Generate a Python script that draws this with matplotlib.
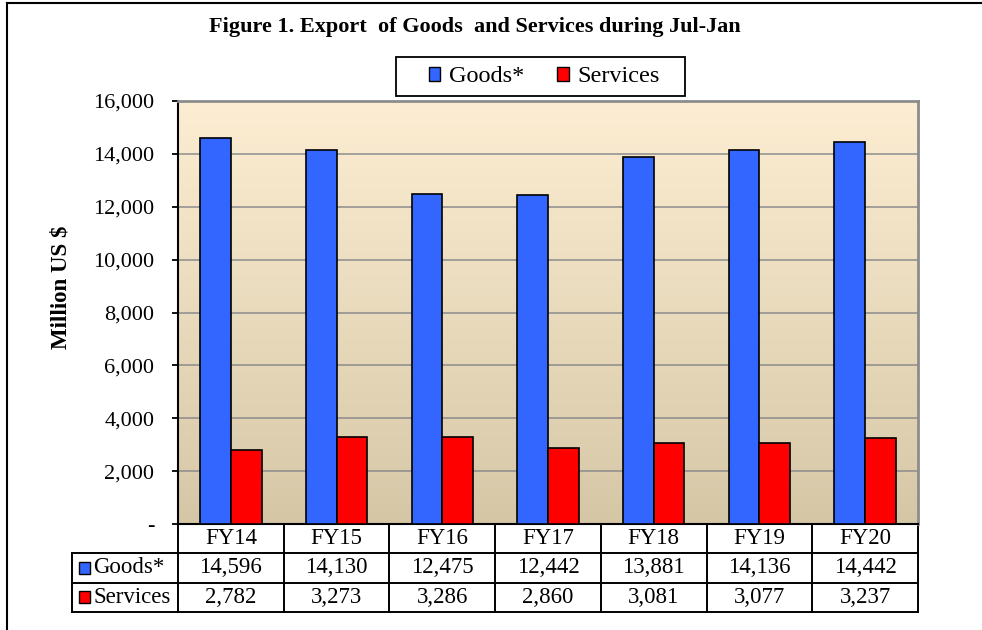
import numpy as np
import matplotlib.pyplot as plt
from matplotlib.lines import Line2D
from matplotlib.patches import Rectangle
from matplotlib.ticker import FuncFormatter, MultipleLocator

years = ['FY14', 'FY15', 'FY16', 'FY17', 'FY18', 'FY19', 'FY20']
goods = [14596, 14130, 12475, 12442, 13881, 14136, 14442]
services = [2782, 3273, 3286, 2860, 3081, 3077, 3237]
series_names = ['Goods*', 'Services']
series_colors = ['#3366FF', '#FF0000']

W, H = 982, 630
plt.rcParams['font.family'] = ['Liberation Serif', 'DejaVu Serif']

fig = plt.figure(figsize=(W / 100, H / 100), dpi=100)

# plot area in pixel terms
left, right, top, bottom = 178, 918, 101, 524
ax = fig.add_axes([left / W, 1 - bottom / H, (right - left) / W, (bottom - top) / H])

x = np.arange(len(years))
bw = 0.29
ax.bar(x - bw / 2, goods, bw, color=series_colors[0], edgecolor='black', linewidth=1.2,
       zorder=3, label=series_names[0])
ax.bar(x + bw / 2, services, bw, color=series_colors[1], edgecolor='black', linewidth=1.2,
       zorder=3, label=series_names[1])

ax.set_xlim(-0.5, len(years) - 0.5)
ax.set_ylim(0, 16000)

# gradient background
grad = np.linspace(0, 1, 256).reshape(-1, 1)
c_top = np.array([253, 238, 211]) / 255
c_bot = np.array([213, 199, 166]) / 255
img = c_top + (c_bot - c_top) * grad[:, :, None]
ax.imshow(img, extent=[0, 1, 0, 1], transform=ax.transAxes, aspect='auto', zorder=0)

ax.yaxis.set_major_locator(MultipleLocator(2000))
ax.yaxis.set_major_formatter(FuncFormatter(lambda v, p: '-' if v == 0 else f'{v:,.0f}'))
ax.grid(axis='y', color='#8c8c8c', linewidth=1.1, zorder=1)
ax.set_axisbelow(True)
ax.tick_params(axis='y', direction='out', length=4, width=1.3, labelsize=16, pad=13, colors='black')
ax.tick_params(axis='x', bottom=False, labelbottom=False)
ax.spines['left'].set_linewidth(1.5)
ax.spines['bottom'].set_linewidth(1.5)
for s in ['top', 'right']:
    ax.spines[s].set_color('#8c8c8c')
    ax.spines[s].set_linewidth(2)

ax.set_ylabel('Million US $', fontsize=16.5, fontweight='bold', labelpad=16)
ax.yaxis.label.set_y(0.56)

# data table underneath
tr = ax.get_xaxis_transform()
rh = 29.3 / (bottom - top)
rows = [goods, services]
lw = 1.4
# horizontal lines
ax.add_line(Line2D([-0.5, len(years) - 0.5], [-rh, -rh], color='black', lw=lw, transform=tr, clip_on=False))
ax.add_line(Line2D([-1.5, -0.5], [-rh, -rh], color='black', lw=lw, transform=tr, clip_on=False))
for k in range(2, 4):
    ax.add_line(Line2D([-1.5, len(years) - 0.5], [-k * rh, -k * rh], color='black', lw=lw,
                       transform=tr, clip_on=False))
# vertical lines
ax.add_line(Line2D([-1.5, -1.5], [-rh, -3 * rh], color='black', lw=lw, transform=tr, clip_on=False))
for b in np.arange(len(years) + 1) - 0.5:
    ax.add_line(Line2D([b, b], [0, -3 * rh], color='black', lw=lw, transform=tr, clip_on=False))

for i, yr in enumerate(years):
    ax.text(i, -0.5 * rh, yr, transform=tr, ha='center', va='center', fontsize=16.5)
    for r, vals in enumerate(rows):
        ax.text(i, -(r + 1.5) * rh, f'{vals[i]:,}', transform=tr, ha='center', va='center', fontsize=16.5)

sq_w, sq_h = 0.11, 0.028
for r, name in enumerate(series_names):
    yc = -(r + 1.5) * rh
    ax.add_patch(Rectangle((-1.44, yc - sq_h / 2), sq_w, sq_h, facecolor=series_colors[r],
                           edgecolor='black', lw=1, transform=tr, clip_on=False))
    ax.text(-1.3, yc, name, transform=tr, ha='left', va='center', fontsize=16.5)

# legend (frame drawn separately to match the wide box)
leg = fig.legend(loc='center', bbox_to_anchor=(544 / W, 1 - 77 / H), ncol=2, fontsize=17.5,
                 frameon=False, handlelength=0.48, handleheight=0.5, handletextpad=0.35,
                 columnspacing=1.35, borderpad=0.4, borderaxespad=0)
for h in leg.legend_handles:
    h.set_edgecolor('black')
    h.set_linewidth(1)
fig.add_artist(Rectangle((396 / W, 1 - 96 / H), (685 - 396) / W, 39 / H, facecolor='none',
                         edgecolor='black', lw=1.3, transform=fig.transFigure))

fig.text(475 / W, 1 - 27 / H, 'Figure 1. Export  of Goods  and Services during Jul-Jan',
         ha='center', va='center', fontsize=16, fontweight='bold')

# outer frame (left and top only visible)
fig.add_artist(Line2D([7 / W, 7 / W], [0, 1 - 3 / H], color='black', lw=1.5, transform=fig.transFigure))
fig.add_artist(Line2D([7 / W, 1], [1 - 3 / H, 1 - 3 / H], color='black', lw=1.5, transform=fig.transFigure))

fig.savefig('out.png', dpi=100)
